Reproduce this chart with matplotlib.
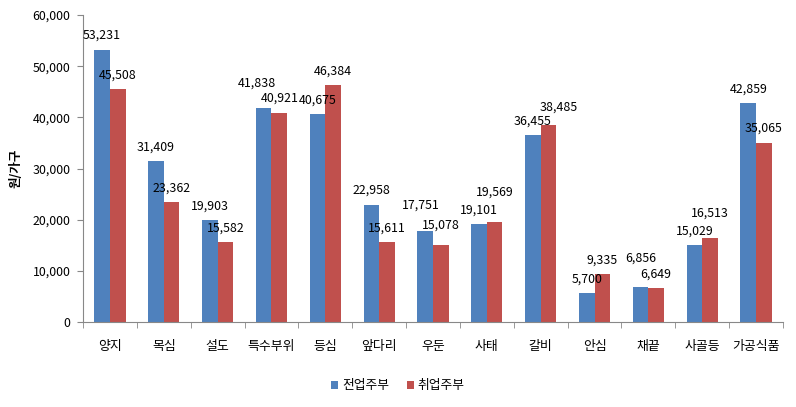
import numpy as np
import matplotlib.pyplot as plt

plt.rcParams['font.family'] = ['Noto Sans CJK KR', 'DejaVu Sans']

categories = ['양지', '목심', '설도', '특수부위', '등심', '앞다리', '우둔', '사태',
              '갈비', '안심', '채끝', '사골등', '가공식품']
fulltime = [53231, 31409, 19903, 41838, 40675, 22958, 17751, 19101,
            36455, 5700, 6856, 15029, 42859]
working = [45508, 23362, 15582, 40921, 46384, 15611, 15078, 19569,
           38485, 9335, 6649, 16513, 35065]
series_names = ['전업주부', '취업주부']

# label offsets in pixels (dx, dy) where the original labels were nudged
nudge_full = {3: (-7, 25), 6: (-4, 26), 10: (0, 29)}
nudge_work = {6: (0, 20), 7: (0, 30), 8: (10, 18), 11: (0, 24)}

fig = plt.figure(figsize=(7.96, 4.07), dpi=100)
ax = fig.add_axes([83 / 796, 85 / 407, 700 / 796, 307 / 407])

x = np.arange(len(categories))
width = 0.29
b1 = ax.bar(x - width / 2, fulltime, width, color='#4F81BD', label=series_names[0])
b2 = ax.bar(x + width / 2, working, width, color='#C0504D', label=series_names[1])

for bars, nudge in ((b1, nudge_full), (b2, nudge_work)):
    for i, rect in enumerate(bars):
        h = rect.get_height()
        dx, dy = nudge.get(i, (0, 14))
        ax.annotate(f'{h:,.0f}', (rect.get_x() + rect.get_width() / 2, h),
                    xytext=(dx, dy), textcoords='offset pixels',
                    ha='center', va='center', fontsize=8.9)

ax.set_xlim(-0.5, len(categories) - 0.5)
ax.set_ylim(0, 60000)
ax.set_yticks(np.arange(0, 60001, 10000))
ax.set_yticklabels([f'{v:,}' for v in range(0, 60001, 10000)], fontsize=8.9)
ax.set_xticks(x)
ax.set_xticklabels(categories, fontsize=9.3)
ax.set_xticks(np.arange(-0.5, len(categories), 1), minor=True)
ax.tick_params(axis='x', which='major', length=0, pad=13)
ax.tick_params(axis='x', which='minor', length=4, color='#888888', direction='out')
ax.tick_params(axis='y', length=4, color='#888888', direction='out', pad=5)

for side in ('top', 'right'):
    ax.spines[side].set_visible(False)
ax.spines['left'].set_color('#888888')
ax.spines['bottom'].set_color('#888888')

ax.set_ylabel('원/가구', fontsize=9, fontweight='bold', labelpad=7)

fig.legend(handles=[b1, b2], loc='center', bbox_to_anchor=(0.5, 21 / 407),
           ncol=2, frameon=False, fontsize=9.2, handlelength=0.55,
           handleheight=0.55, handletextpad=0.3, columnspacing=1.4)

fig.savefig('out.png', dpi=100)
